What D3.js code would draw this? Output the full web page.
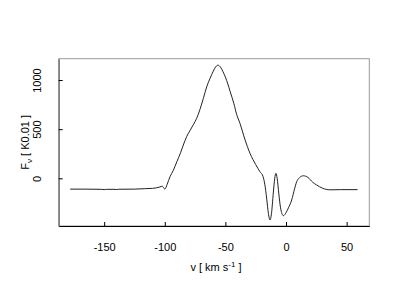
<!DOCTYPE html>
<html>
<head>
<meta charset="utf-8">
<script src="https://cdn.jsdelivr.net/npm/d3@7"></script>
<style>
  body { margin: 0; background: #fff; }
  text { font-family: "Liberation Sans", Arial, sans-serif; }
</style>
</head>
<body>
<div id="chart"></div>
<script>
// Spectrum data
const velocity = [-178, -165, -152, -150, -148, -142, -140, -138, -125, -116, -110, -104, -102, -101, -100, -98,
  -95.7, -93, -90, -87, -84.7, -82, -79, -76.5, -73.7, -71, -68.2, -65.4, -62.7, -60, -58, -56, -54, -52, -50,
  -48, -46, -43, -40.7, -38, -34, -29.7, -25, -21.5, -19, -17.5, -16, -14.5, -13.2, -12, -10.5, -9.3, -8.3,
  -7.3, -6, -4.5, -2.2, 0, 2, 4.7, 7, 8.8, 11, 14.3, 18, 22, 25.3, 30, 36.3, 45, 59];
const flux = [-110, -110, -112, -115, -112, -112, -114, -111, -110, -105, -102, -88, -80, -95, -110, -60,
  16, 80, 170, 260, 339, 423, 490, 545, 610, 700, 813, 931, 1016, 1090, 1135, 1151, 1130, 1085, 1030,
  960, 880, 760, 650, 560, 400, 254, 140, 67, 20, -60, -200, -360, -424, -360, -150, 0, 51,
  0, -150, -300, -380, -350, -300, -220, -110, -35, 5, 26, 10, -40, -68, -100, -117, -115, -115];

const xTicks = [-150, -100, -50, 0, 50];
const yTicks = [0, 500, 1000];

const width = 400, height = 300;
const box = { left: 58.7, right: 369.3, top: 58.7, bottom: 226 };

const svg = d3.select("#chart").append("svg")
    .attr("width", width)
    .attr("height", height);

const x = d3.scaleLinear().domain([-187.5, 68.7]).range([box.left, box.right]);
const y = d3.scaleLinear().domain([-485, 1217]).range([box.bottom, box.top]);

// frame
svg.append("rect")
    .attr("x", box.left).attr("y", box.top)
    .attr("width", box.right - box.left).attr("height", box.bottom - box.top)
    .attr("fill", "none").attr("stroke", "#999").attr("stroke-width", 1);

// axes, ticks pointing inward
const xAxis = svg.append("g")
    .attr("transform", `translate(0,${box.bottom})`)
    .call(d3.axisBottom(x).tickValues(xTicks).tickFormat(d => String(d))
        .tickSizeInner(-4).tickSizeOuter(0).tickPadding(17));
xAxis.select(".domain").attr("stroke", "#000");
xAxis.selectAll("text").attr("font-size", "11px").attr("fill", "#000")
    .style("font-family", "'Liberation Sans', Arial, sans-serif");

const yAxis = svg.append("g")
    .attr("transform", `translate(${box.left},0)`)
    .call(d3.axisLeft(y).tickValues(yTicks).tickFormat(d => String(d))
        .tickSizeInner(-4).tickSizeOuter(0).tickPadding(0));
yAxis.select(".domain").attr("stroke", "#555");
yAxis.selectAll(".tick text")
    .attr("x", 0).attr("dy", null)
    .attr("transform", "translate(-17.5,0) rotate(-90)")
    .attr("text-anchor", "middle")
    .attr("font-size", "11px").attr("fill", "#000")
    .style("font-family", "'Liberation Sans', Arial, sans-serif");

// axis labels
const xl = svg.append("text")
    .attr("x", (box.left + box.right) / 2 + 2)
    .attr("y", 271)
    .attr("text-anchor", "middle")
    .attr("font-size", "11px");
xl.append("tspan").text("v [ km s");
xl.append("tspan").attr("dy", -4).attr("font-size", "8px").text("-1");
xl.append("tspan").attr("dy", 4).text(" ]");

const yl = svg.append("text")
    .attr("transform", `translate(28.5,${(box.top + box.bottom) / 2}) rotate(-90)`)
    .attr("text-anchor", "middle")
    .attr("font-size", "11px");
yl.append("tspan").text("F");
yl.append("tspan").attr("dy", 3).attr("font-size", "8px").text("\u03BD");
yl.append("tspan").attr("dy", -3).text(" [ K0.01 ]");

// spectrum line
const points = velocity.map((v, i) => ({ v, f: flux[i] }));
const line = d3.line()
    .x(d => x(d.v))
    .y(d => y(d.f))
    .curve(d3.curveMonotoneX);

svg.append("path")
    .datum(points)
    .attr("fill", "none")
    .attr("stroke", "#222")
    .attr("stroke-width", 1)
    .attr("d", line);
</script>
</body>
</html>
